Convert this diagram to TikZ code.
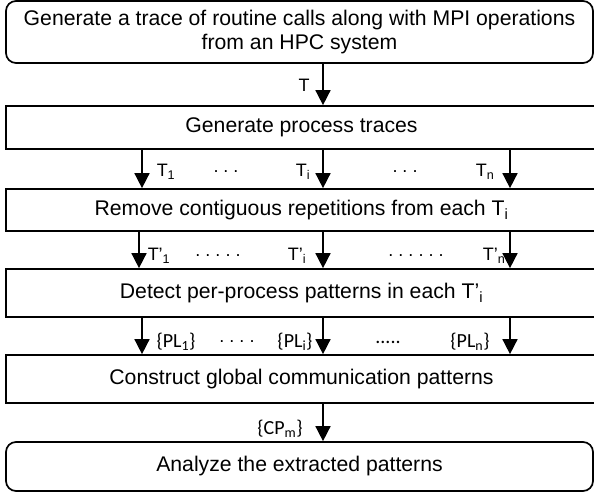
\documentclass[tikz,border=0pt]{standalone}
\usepackage{fontspec}
\setmainfont{Liberation Sans}
\newfontfamily\lblfont{Carlito}
\usetikzlibrary{arrows.meta}

\begin{document}
\begin{tikzpicture}[x=1pt,y=-1pt,
  stage/.style={draw,line width=1.7pt,inner sep=0pt,align=center,
    font=\fontsize{21.2}{24.5}\selectfont},
  wide/.style={stage,minimum width=591pt},
  capped/.style={stage,rounded corners=10pt,minimum width=587pt},
  flow/.style={line width=1.6pt,-{Triangle[length=15pt,width=15pt]}},
  tlbl/.style={inner sep=0pt,font=\fontsize{18}{21}\selectfont},
  plbl/.style={inner sep=0pt,font=\lblfont\fontsize{20}{23}\selectfont},
]
\useasboundingbox (0,0) rectangle (594,495);

% processing stages
\node[capped,minimum height=62pt] (gen) at (299.5,32)
  {Generate a trace of routine calls along with MPI operations\\from an HPC system};
\node[wide,minimum height=43pt] (split) at (301.5,127.5) {Generate process traces};
\node[wide,minimum height=42pt] (dedup) at (301.5,210)
  {Remove contiguous repetitions from each T\textsubscript{i}};
\node[wide,minimum height=48pt] (detect) at (301.5,293)
  {Detect per-process patterns in each T’\textsubscript{i}};
\node[wide,minimum height=48pt] (global) at (301.5,379)
  {Construct global communication patterns};
\node[capped,minimum height=49pt] (analyze) at (299.5,466.5)
  {Analyze the extracted patterns};

% columns of the per-process arrows
\coordinate (pa) at (142,0);
\coordinate (pb) at (139,0);
\coordinate (pi) at (323,0);
\coordinate (pn) at (510,0);

\draw[flow] (gen.south -| pi) -- (split.north -| pi);

\draw[flow] (split.south -| pa) -- (dedup.north -| pa);
\draw[flow] (split.south -| pi) -- (dedup.north -| pi);
\draw[flow] (split.south -| pn) -- (dedup.north -| pn);

\draw[flow] (dedup.south -| pb) -- (detect.north -| pb);
\draw[flow] (dedup.south -| pi) -- (detect.north -| pi);
\draw[flow] (dedup.south -| pn) -- (detect.north -| pn);

\draw[flow] (detect.south -| pa) -- (global.north -| pa);
\draw[flow] (detect.south -| pi) -- (global.north -| pi);
\draw[flow] (detect.south -| pn) -- (global.north -| pn);

\draw[flow] (global.south -| pi) -- (analyze.north -| pi);

% data labels
\node[tlbl] (lT) at (304,85) {T};

\node[tlbl] (l1) at (166,172) {T\textsubscript{1}};
\node[tlbl] (d1) at (226,172) {.\ .\ .};
\node[tlbl] (li) at (303,172) {T\textsubscript{i}};
\node[tlbl] (d2) at (405,172) {.\ .\ .};
\node[tlbl] (ln) at (485,172) {T\textsubscript{n}};

\node[tlbl] (m1) at (159,256) {T’\textsubscript{1}};
\node[tlbl] (d3) at (218,256) {.\ .\ .\ .\ .};
\node[tlbl] (mi) at (297,256) {T’\textsubscript{i}};
\node[tlbl] (d4) at (416,256) {.\ .\ .\ .\ .\ .};
\node[tlbl] (mn) at (494,256) {T’\textsubscript{n}};

\node[plbl] (p1) at (176,342) {\{PL\textsubscript{1}\}};
\node[tlbl] (d5) at (237,342) {.\ .\ .\ .};
\node[plbl] (pli) at (295,342) {\{PL\textsubscript{i}\}};
\node[plbl] (d6) at (388,342) {.....};
\node[plbl] (pln) at (470,342) {\{PL\textsubscript{n}\}};

\node[plbl] (cp) at (280,429) {\{CP\textsubscript{m}\}};
\end{tikzpicture}
\end{document}
